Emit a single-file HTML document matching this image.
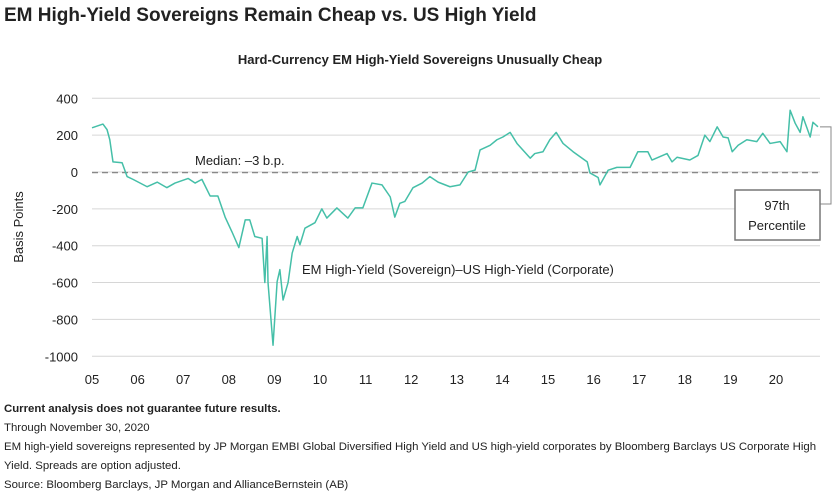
<!DOCTYPE html>
<html><head><meta charset="utf-8"><style>
body{margin:0;background:#fff;font-family:"Liberation Sans",sans-serif;color:#222}
.wrap{position:relative;width:840px;height:495px;overflow:hidden}
.foot{position:absolute;left:4px;font-size:11.4px;color:#222;line-height:19px;white-space:nowrap}
</style></head><body><div class="wrap">
<div style="position:absolute;left:4px;top:5px;font-size:19px;font-weight:bold;color:#222">EM High-Yield Sovereigns Remain Cheap vs. US High Yield</div>
<svg id="c" width="840" height="400" style="position:absolute;left:0;top:0"></svg>
<div class="foot" style="top:400px"><b>Current analysis does not guarantee future results.</b><br>Through November 30, 2020<br>EM high-yield sovereigns represented by JP Morgan EMBI Global Diversified High Yield and US high-yield corporates by Bloomberg Barclays US Corporate High<br>Yield. Spreads are option adjusted.<br>Source: Bloomberg Barclays, JP Morgan and AllianceBernstein (AB)</div>
</div>
<script>
const years=[5.00,5.24,5.33,5.39,5.46,5.66,5.77,5.90,6.21,6.43,6.64,6.82,7.11,7.26,7.41,7.59,7.76,7.92,8.07,8.22,8.36,8.46,8.57,8.73,8.79,8.84,8.86,8.97,9.06,9.12,9.19,9.30,9.39,9.50,9.56,9.67,9.89,10.04,10.15,10.37,10.61,10.77,10.94,11.14,11.36,11.54,11.64,11.75,11.86,12.04,12.24,12.41,12.59,12.85,13.07,13.25,13.40,13.51,13.73,13.88,14.01,14.17,14.32,14.61,14.71,14.89,15.04,15.18,15.33,15.55,15.86,15.92,16.10,16.14,16.32,16.51,16.80,16.97,17.19,17.28,17.61,17.72,17.83,18.11,18.29,18.44,18.55,18.71,18.84,18.95,19.04,19.17,19.36,19.58,19.71,19.87,20.09,20.24,20.31,20.42,20.53,20.59,20.75,20.81,20.92];
const spreads=[240,260,230,175,55,50,-25,-40,-80,-55,-85,-60,-35,-60,-40,-130,-130,-245,-325,-410,-260,-260,-350,-360,-600,-350,-600,-940,-595,-530,-695,-600,-440,-350,-395,-305,-275,-200,-250,-195,-250,-195,-195,-60,-70,-135,-245,-170,-160,-85,-60,-25,-55,-80,-70,0,10,120,145,175,190,215,155,75,100,110,175,215,155,110,55,-5,-30,-70,10,25,25,110,110,65,100,55,80,65,90,200,165,245,190,185,110,145,175,165,210,155,165,110,335,265,215,300,190,270,245];
const yTicks=[400,200,0,-200,-400,-600,-800,-1000];
const xTickLabels=["05","06","07","08","09","10","11","12","13","14","15","16","17","18","19","20"];
const median=-3;
const X=y=>92+(y-5)*45.6, Y=v=>172-v*0.18425;
const s=document.getElementById('c'),NS='http://www.w3.org/2000/svg';
function mk(t,a,txt){const e=document.createElementNS(NS,t);for(const k in a)e.setAttribute(k,a[k]);if(txt!=null)e.textContent=txt;s.appendChild(e);return e;}
let e=mk('text',{x:420,y:64,'text-anchor':'middle','font-size':13,'font-weight':'bold',fill:'#222'},'Hard-Currency EM High-Yield Sovereigns Unusually Cheap');

yTicks.forEach(v=>{let g=mk('line',{x1:92,x2:820,y1:Y(v),y2:Y(v),stroke:'#d6d6d6','stroke-width':1});

let t=mk('text',{x:78,y:Y(v)+5,'text-anchor':'end','font-size':13,fill:'#222'},v);
});
xTickLabels.forEach((l,i)=>{let t=mk('text',{x:X(5+i),y:384,'text-anchor':'middle','font-size':13,fill:'#222'},l);
});
e=mk('text',{x:23,y:227,'text-anchor':'middle','font-size':13,fill:'#222',transform:'rotate(-90 23 227)'},'Basis Points');

e=mk('line',{x1:92,x2:820,y1:Y(median),y2:Y(median),stroke:'#888','stroke-width':1.3,'stroke-dasharray':'6,4'});

e=mk('text',{x:195,y:165,'font-size':13,fill:'#222'},'Median: –3 b.p.');

e=mk('polyline',{points:years.map((y,i)=>X(y)+','+Y(spreads[i])).join(' '),fill:'none',stroke:'#45bfa8','stroke-width':1.5,'stroke-linejoin':'round'});

e=mk('text',{x:302,y:274,'font-size':13,fill:'#222'},'EM High-Yield (Sovereign)–US High-Yield (Corporate)');

const last=Y(spreads[spreads.length-1]);
e=mk('polyline',{points:`820,${last} 831,${last} 831,204 820,204`,fill:'none',stroke:'#888','stroke-width':1});

e=mk('rect',{x:735,y:190,width:85,height:50,fill:'#fff',stroke:'#777','stroke-width':1.5});

e=mk('text',{x:777,y:210,'text-anchor':'middle','font-size':13,fill:'#222'},'97th');

e=mk('text',{x:777,y:230,'text-anchor':'middle','font-size':13,fill:'#222'},'Percentile');

</script></body></html>
